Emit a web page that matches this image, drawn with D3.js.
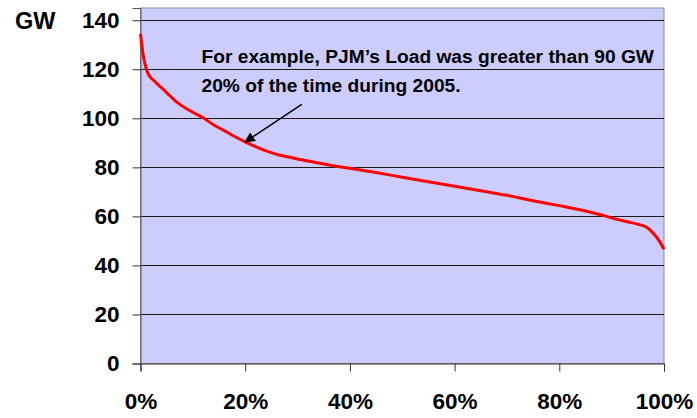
<!DOCTYPE html>
<html><head><meta charset="utf-8">
<script src="https://cdn.jsdelivr.net/npm/d3@7"></script>
<style>
html,body{margin:0;padding:0;background:#fff;}
text{font-family:"Liberation Sans",Arial,sans-serif;font-weight:bold;fill:#000;}
</style></head>
<body><svg id="c" width="697" height="418"></svg>
<script>
// Load duration curve, PJM 2005 (percent of time, GW)
const pctTime = [0,0.5,1,1.5,2.5,4,5,7,8.5,10,12,14,16,18,20,22,24,26,28,30,33,36,40,45,50,55,60,65,70,75,80,85,88.4,90,93,95,96.7,98,99.2,100];
const loadGW  = [134.5,126,121,118,115.5,112.5,110.5,106.5,104.3,102.5,100.2,97.3,95,92.6,90.4,88.5,86.7,85.3,84.3,83.4,82.2,81,79.6,77.9,76,74.1,72.3,70.5,68.6,66.4,64.4,62.2,60.4,59.4,57.8,56.8,55.6,53,49.6,46.6];
const yTicks = [0,20,40,60,80,100,120,140];
const xTicks = [0,20,40,60,80,100];
const yLabel = "GW";
const noteLines = ["For example, PJM\u2019s Load was greater than 90 GW","20% of the time during 2005."];
const arrowFrom = [30.8,105.7];
const arrowTo = [20,90.4];

const svg = d3.select("#c");
const L=140.5,R=664,T=8,B=363.5;
const x = d3.scaleLinear().domain([0,100]).range([L,R]);
const y = d3.scaleLinear().domain([0,145]).range([B,T]);

svg.append("rect").attr("x",L).attr("y",T).attr("width",R-L).attr("height",B-T)
  .attr("fill","#CCCCFF").attr("stroke","#8c8c8c").attr("stroke-width",1);

// gridlines
svg.append("g").selectAll("line").data(yTicks.filter(d=>d>0)).join("line")
  .attr("x1",L).attr("x2",R).attr("y1",d=>Math.round(y(d))+0.5).attr("y2",d=>Math.round(y(d))+0.5)
  .attr("stroke","#1a1a1a").attr("stroke-width",1);

// axes
const yAxis = d3.axisLeft(y).tickValues(yTicks).tickSize(8).tickPadding(13).tickFormat(d3.format("d"));
const gy = svg.append("g").attr("transform",`translate(${L},0)`).call(yAxis);
gy.select(".domain").attr("stroke","#555");
gy.selectAll(".tick line").attr("stroke","#333");
gy.selectAll("text").style("font-size","22.5px").attr("fill","#000");

const xAxis = d3.axisBottom(x).tickValues(xTicks).tickSize(8).tickPadding(22).tickFormat(d=>d+"%");
const gx = svg.append("g").attr("transform",`translate(0,${B})`).call(xAxis);
gx.select(".domain").attr("stroke","#333");
gx.selectAll(".tick line").attr("stroke","#333");
gx.selectAll("text").style("font-size","22.5px").attr("fill","#000");

svg.append("text").attr("x",15).attr("y",y(140)).attr("dy","0.36em").style("font-size","23.5px").text(yLabel);

// curve
const line = d3.line().x((d,i)=>x(pctTime[i])).y(d=>y(d)).curve(d3.curveMonotoneX);
svg.append("path").datum(loadGW).attr("d",line).attr("fill","none")
  .attr("stroke","#ff0000").attr("stroke-width",3).attr("stroke-linejoin","round");

// annotation
svg.append("defs").append("marker").attr("id","ah").attr("viewBox","0 0 10 10")
  .attr("refX",9).attr("refY",5).attr("markerWidth",7).attr("markerHeight",7)
  .attr("orient","auto").append("path").attr("d","M0,0L10,5L0,10z").attr("fill","#000");
svg.append("line").attr("x1",x(arrowFrom[0])).attr("y1",y(arrowFrom[1]))
  .attr("x2",x(arrowTo[0])).attr("y2",y(arrowTo[1]))
  .attr("stroke","#000").attr("stroke-width",1.5).attr("marker-end","url(#ah)");
svg.append("g").selectAll("text").data(noteLines).join("text")
  .attr("x",201.5).attr("y",(d,i)=>62.5+i*29.5).style("font-size","19.2px").text(d=>d);
</script></body></html>
